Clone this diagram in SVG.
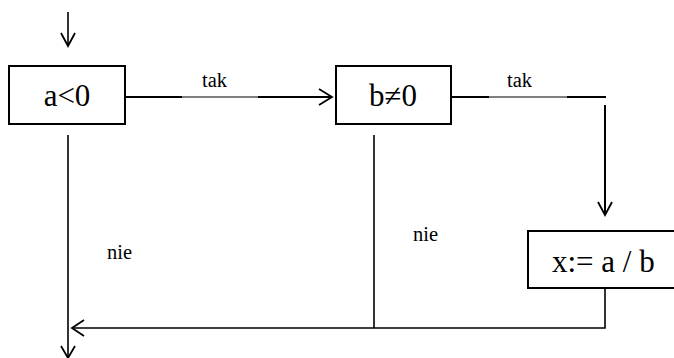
<svg xmlns="http://www.w3.org/2000/svg" width="674" height="358" viewBox="0 0 674 358">
  <style>
    .box { fill: #ffffff; stroke: #000000; stroke-width: 2; }
    .ln { fill: none; stroke: #000000; stroke-width: 2; }
    .thin { fill: none; stroke: #000000; stroke-width: 1; }
    .head { fill: none; stroke: #000000; stroke-width: 1.8; stroke-linejoin: miter; }
    text { font-family: "Liberation Serif", "Times New Roman", serif; fill: #000000; }
    .big { font-size: 31px; }
    .lbl { font-size: 20.5px; }
  </style>
  <rect width="674" height="358" fill="#ffffff"/>

  <g id="connectors">
    <!-- entry arrow -->
    <line class="thin" x1="68" y1="12" x2="68" y2="46" style="stroke-width:1.6"/>
    <polyline class="head" points="61,33 68,46 75,33"/>

    <!-- a<0 tak -> b≠0 -->
    <line class="ln" x1="125" y1="97" x2="182" y2="97"/>
    <line class="thin" x1="182" y1="97" x2="258" y2="97"/>
    <line class="ln" x1="258" y1="97" x2="331" y2="97"/>
    <polyline class="head" points="319,89 332,97 319,105"/>

    <!-- b≠0 tak -> x:= a / b -->
    <line class="ln" x1="451" y1="97" x2="489" y2="97"/>
    <line class="thin" x1="489" y1="97" x2="567" y2="97"/>
    <line class="ln" x1="567" y1="97" x2="606" y2="97"/>
    <line class="ln" x1="605" y1="105" x2="605" y2="214"/>
    <polyline class="head" points="598,202 605,215 612,202"/>

    <!-- a<0 nie, down to exit -->
    <line class="ln" x1="68" y1="135" x2="68" y2="357" style="stroke-width:1.6"/>
    <polyline class="head" points="61,346 68,358 75,346"/>

    <!-- b≠0 nie -->
    <line class="ln" x1="374" y1="135" x2="374" y2="328" style="stroke-width:1.6"/>

    <!-- x:= a / b back to main path -->
    <polyline class="ln" points="605,288 605,328 73,328" style="stroke-width:1.6"/>
    <polyline class="head" points="84,320 72,328 84,336"/>

    <text class="lbl" x="202" y="87">tak</text>
    <text class="lbl" x="507" y="87">tak</text>
    <text class="lbl" x="107" y="259">nie</text>
    <text class="lbl" x="413" y="241">nie</text>
  </g>

  <g id="cond-a">
    <rect class="box" x="9" y="66" width="116" height="58"/>
    <text class="big" x="67" y="106" text-anchor="middle">a&lt;0</text>
  </g>

  <g id="cond-b">
    <rect class="box" x="336" y="66" width="115" height="58"/>
    <text class="big" x="393" y="106" text-anchor="middle">b≠0</text>
  </g>

  <g id="assign-x">
    <!-- box runs past the right edge of the page, so only three sides are drawn -->
    <path class="box" d="M 690 231 H 528 V 288 H 690"/>
    <text class="big" x="552" y="272">x:= a / b</text>
  </g>
</svg>
